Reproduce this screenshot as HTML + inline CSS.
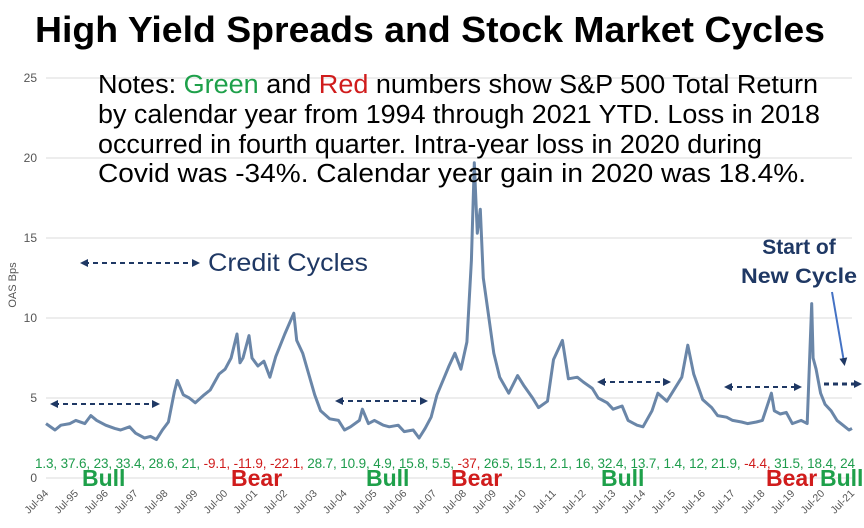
<!DOCTYPE html>
<html><head><meta charset="utf-8"><style>
body{margin:0;background:#fff}
svg{display:block;font-family:"Liberation Sans",sans-serif}
.pre{white-space:pre}
</style></head><body>
<svg width="864" height="528" viewBox="0 0 864 528">
<defs>
<marker id="ah" markerWidth="8" markerHeight="8" refX="4" refY="4" orient="auto-start-reverse" markerUnits="userSpaceOnUse"><path d="M0,0 L8,4 L0,8 z" fill="#1f3864"/></marker>
</defs>
<text x="430" y="42" text-anchor="middle" font-size="36" font-weight="bold" fill="#000" textLength="790" lengthAdjust="spacingAndGlyphs">High Yield Spreads and Stock Market Cycles</text>
<g id="grid"></g>
<g id="yticks" font-size="12" fill="#555" text-anchor="end"></g>
<text transform="translate(16,285) rotate(-90)" text-anchor="middle" font-size="11" fill="#555">OAS Bps</text>
<path id="line" fill="none" stroke="#6a86a8" stroke-width="3" stroke-linejoin="round"/>
<g font-size="25.5" fill="#000" class="pre">
<text x="98" y="93" textLength="720" lengthAdjust="spacingAndGlyphs">Notes:  <tspan fill="#1ea04a">Green</tspan> and <tspan fill="#d01c1c">Red</tspan> numbers show S&amp;P 500 Total Return</text>
<text x="98" y="123" textLength="722" lengthAdjust="spacingAndGlyphs">by calendar year from 1994 through 2021 YTD.  Loss in 2018</text>
<text x="98" y="153" textLength="664" lengthAdjust="spacingAndGlyphs">occurred in fourth quarter.  Intra-year loss in 2020 during</text>
<text x="98" y="182" textLength="708" lengthAdjust="spacingAndGlyphs">Covid was -34%.  Calendar year gain in 2020 was 18.4%.</text>
</g>
<text x="208" y="271" font-size="25" fill="#1f3864" textLength="160" lengthAdjust="spacingAndGlyphs">Credit Cycles</text>
<g stroke="#1f3864" stroke-width="2" stroke-dasharray="5,4" fill="none">
<line x1="84" y1="263" x2="196" y2="263" marker-start="url(#ah)" marker-end="url(#ah)"/>
<line x1="54" y1="404" x2="156" y2="404" marker-start="url(#ah)" marker-end="url(#ah)"/>
<line x1="339" y1="401" x2="424" y2="401" marker-start="url(#ah)" marker-end="url(#ah)"/>
<line x1="601" y1="382" x2="667" y2="382" marker-start="url(#ah)" marker-end="url(#ah)"/>
<line x1="728" y1="387" x2="798" y2="387" marker-start="url(#ah)" marker-end="url(#ah)"/>
<line x1="824" y1="384" x2="858" y2="384" stroke-width="3" marker-end="url(#ah)"/>
</g>
<g font-size="21" font-weight="bold" fill="#1f3864" text-anchor="middle">
<text x="799" y="254">Start of</text>
<text x="799" y="283" textLength="116" lengthAdjust="spacingAndGlyphs">New Cycle</text>
</g>
<line x1="832" y1="292" x2="844" y2="362" stroke="#4472c4" stroke-width="2" marker-end="url(#ah)"/>
<text id="rets" x="35" y="468" font-size="13.5"></text>
<g font-size="23" font-weight="bold">
<text x="82" y="486" fill="#1ea04a">Bull</text>
<text x="231" y="486" fill="#d01c1c">Bear</text>
<text x="366" y="486" fill="#1ea04a">Bull</text>
<text x="451" y="486" fill="#d01c1c">Bear</text>
<text x="601" y="486" fill="#1ea04a">Bull</text>
<text x="766" y="486" fill="#d01c1c">Bear</text>
<text x="820" y="486" fill="#1ea04a">Bull</text>
</g>
<g id="xticks" font-size="10.5" fill="#555" text-anchor="end"></g>
</svg>
<script>
const yTicks=[0,5,10,15,20,25];
const xLabels=["Jul-94","Jul-95","Jul-96","Jul-97","Jul-98","Jul-99","Jul-00","Jul-01","Jul-02","Jul-03","Jul-04","Jul-05","Jul-06","Jul-07","Jul-08","Jul-09","Jul-10","Jul-11","Jul-12","Jul-13","Jul-14","Jul-15","Jul-16","Jul-17","Jul-18","Jul-19","Jul-20","Jul-21"];
const returns=[1.3,37.6,23,33.4,28.6,21,-9.1,-11.9,-22.1,28.7,10.9,4.9,15.8,5.5,-37,26.5,15.1,2.1,16,32.4,13.7,1.4,12,21.9,-4.4,31.5,18.4,24];
const dates=[1994.5,1994.8,1995.0,1995.3,1995.5,1995.8,1996.0,1996.2,1996.5,1996.8,1997.0,1997.3,1997.5,1997.8,1998.0,1998.2,1998.4,1998.6,1998.8,1998.9,1999.1,1999.3,1999.5,1999.8,2000.0,2000.3,2000.5,2000.7,2000.9,2001.0,2001.1,2001.3,2001.4,2001.6,2001.8,2002.0,2002.2,2002.5,2002.8,2002.9,2003.1,2003.3,2003.5,2003.7,2004.0,2004.3,2004.5,2004.7,2005.0,2005.1,2005.3,2005.5,2005.8,2006.0,2006.3,2006.5,2006.8,2007.0,2007.2,2007.4,2007.6,2007.8,2008.0,2008.2,2008.4,2008.6,2008.75,2008.85,2008.95,2009.05,2009.15,2009.3,2009.5,2009.7,2010.0,2010.3,2010.5,2010.8,2011.0,2011.3,2011.5,2011.8,2012.0,2012.3,2012.5,2012.8,2013.0,2013.3,2013.5,2013.8,2014.0,2014.3,2014.5,2014.8,2015.0,2015.3,2015.5,2015.8,2016.0,2016.2,2016.5,2016.8,2017.0,2017.3,2017.5,2017.8,2018.0,2018.3,2018.5,2018.8,2018.9,2019.1,2019.3,2019.5,2019.8,2020.0,2020.15,2020.2,2020.3,2020.45,2020.6,2020.8,2021.0,2021.2,2021.4,2021.5];
const oas=[3.4,3.0,3.3,3.4,3.6,3.4,3.9,3.6,3.3,3.1,3.0,3.2,2.8,2.5,2.6,2.4,3.0,3.5,5.4,6.1,5.2,5.0,4.7,5.2,5.5,6.5,6.8,7.5,9.0,7.2,7.5,8.9,7.5,7.0,7.3,6.3,7.6,9.0,10.3,8.6,7.8,6.5,5.2,4.2,3.7,3.6,3.0,3.2,3.6,4.3,3.4,3.6,3.3,3.2,3.3,2.9,3.0,2.5,3.1,3.8,5.2,6.1,7.0,7.8,6.8,8.5,13.6,19.7,15.3,16.8,12.5,10.5,7.8,6.3,5.3,6.4,5.8,5.0,4.4,4.8,7.4,8.6,6.2,6.3,6.0,5.6,5.0,4.7,4.3,4.5,3.6,3.3,3.2,4.2,5.3,4.8,5.4,6.3,8.3,6.5,4.9,4.4,3.9,3.8,3.6,3.5,3.4,3.5,3.6,5.3,4.2,4.0,4.1,3.4,3.6,3.4,10.9,7.5,6.8,5.3,4.6,4.2,3.6,3.3,3.0,3.1];
const xScale=t=>46+(t-1994.5)*29.85;
const yScale=v=>478-v*16;
const NS="http://www.w3.org/2000/svg";
const grid=document.getElementById('grid'),yt=document.getElementById('yticks');
yTicks.forEach(v=>{
  const l=document.createElementNS(NS,'line');
  l.setAttribute('x1',46);l.setAttribute('x2',852);
  l.setAttribute('y1',yScale(v));l.setAttribute('y2',yScale(v));
  l.setAttribute('stroke','#e2e2e2');l.setAttribute('stroke-width','1.2');
  
  
  grid.appendChild(l);
  const t=document.createElementNS(NS,'text');
  t.setAttribute('x',37);t.setAttribute('y',yScale(v)+4);t.textContent=v;
  
  
  yt.appendChild(t);
});
const xt=document.getElementById('xticks');
xLabels.forEach((s,i)=>{
  const x=xScale(1994.5+i);
  const t=document.createElementNS(NS,'text');
  t.setAttribute('transform',`translate(${x+3},${494}) rotate(-45)`);
  t.textContent=s;
  
  
  xt.appendChild(t);
});
document.getElementById('line').setAttribute('d',dates.map((d,i)=>(i?'L':'M')+xScale(d).toFixed(1)+','+yScale(oas[i]).toFixed(1)).join(''));
const rets=document.getElementById('rets');
rets.setAttribute('textLength',820);
rets.setAttribute('lengthAdjust','spacing');
returns.forEach((r,i)=>{
  const ts=document.createElementNS(NS,'tspan');
  ts.setAttribute('fill',r<0?'#d01c1c':'#1e9c4c');
  ts.textContent=r+(i<returns.length-1?', ':'');
  
  
  rets.appendChild(ts);
});
</script>
</body></html>
